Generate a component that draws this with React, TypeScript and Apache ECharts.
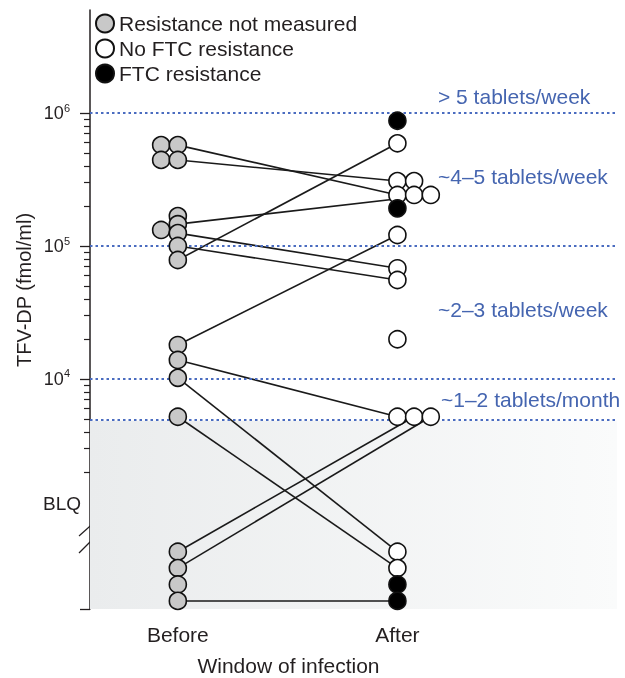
import React, { useEffect, useRef } from 'react';
import * as echarts from 'echarts';

const categories = ['Before', 'After'];
const seriesNames = ['Resistance not measured', 'No FTC resistance', 'FTC resistance'];

// TFV-DP (fmol/ml); 'BLQ' = below limit of quantification
const beforeValues: (number | string)[] = [574000, 444000, 132000, 574000, 444000, 168000, 146000, 125000, 100000, 78500, 18000, 13900, 10200, 5200, 'BLQ', 'BLQ', 'BLQ', 'BLQ'];
const beforeJitter = [-1, -1, -1, 0, 0, 0, 0, 0, 0, 0, 0, 0, 0, 0, 0, 0, 0, 0];
const beforeStatus = [0, 0, 0, 0, 0, 0, 0, 0, 0, 0, 0, 0, 0, 0, 0, 0, 0, 0];

const afterValues: (number | string)[] = [875000, 592000, 308000, 308000, 242000, 242000, 242000, 192000, 121000, 68000, 55500, 19900, 5200, 5200, 5200, 'BLQ', 'BLQ', 'BLQ', 'BLQ'];
const afterJitter = [0, 0, 0, 1, 0, 1, 2, 0, 0, 0, 0, 0, 0, 1, 2, 0, 0, 0, 0];
const afterStatus = [2, 1, 1, 1, 1, 1, 1, 2, 1, 1, 1, 1, 1, 1, 1, 1, 1, 2, 2];

// [before index, after index]
const pairs = [[3, 4], [4, 2], [6, 6], [7, 9], [8, 10], [9, 1], [10, 8], [11, 12], [12, 15], [13, 16], [14, 13], [15, 14], [17, 18]];

const guideValues = [1e6, 1e5, 1e4, 4860];
const majorExponents = [4, 5, 6];
const minorTickValues = [2000, 3000, 4000, 5000, 6000, 7000, 8000, 9000, 20000, 30000, 40000, 50000, 60000, 70000, 80000, 90000, 200000, 300000, 400000, 500000, 600000, 700000, 800000, 900000];
const bandLabels = ['> 5 tablets/week', '~4–5 tablets/week', '~2–3 tablets/week', '~1–2 tablets/month', '<1 tablet/month'];

const FONT = 'Liberation Sans, Arial, Helvetica, sans-serif';
const INK = '#231f20';
const BLUE_TEXT = '#4565b0';
const BLUE_LINE = '#4a6cc0';
const FILLS = ['#c8c8c8', '#ffffff', '#000000'];

const Y_MIN = 2.27;
const Y_MAX = 6.775;
const BLQ_TOP = 2.701;
const BLQ_STEP = 0.1233;
const BLQ_LABEL_POS = 3.067;
const JITTER = 0.076;

function toPoints(values: (number | string)[], jitter: number[], group: number) {
  let rank = 0;
  return values.map((v, i) => {
    const y = v === 'BLQ' ? BLQ_TOP - (rank++) * BLQ_STEP : Math.log10(v as number);
    return [group + jitter[i] * JITTER, y];
  });
}

export default function App() {
  const ref = useRef<HTMLDivElement>(null);
  useEffect(() => {
    if (!ref.current) return;
    const chart = echarts.init(ref.current, undefined, { renderer: 'svg' });
    const bPts = toPoints(beforeValues, beforeJitter, 0);
    const aPts = toPoints(afterValues, afterJitter, 1);

    const scatterSeries = seriesNames.map((name, s) => {
      const data: number[][] = [];
      bPts.forEach((p, i) => { if (beforeStatus[i] === s) data.push(p); });
      aPts.forEach((p, i) => { if (afterStatus[i] === s) data.push(p); });
      return {
        name,
        type: 'scatter',
        data,
        symbol: 'circle',
        symbolSize: 17,
        z: 5 + s,
        itemStyle: { color: FILLS[s], borderColor: '#111', borderWidth: 1.6, opacity: 1 },
        emphasis: { disabled: true },
      };
    });

    const bandPos = [[438, 96], [438, 176], [438, 309.5], [441, 399], [437, 511]];

    chart.setOption({
      animation: false,
      grid: { left: 90, right: 8, top: 10, bottom: 69, containLabel: false },
      legend: {
        orient: 'vertical',
        left: 95,
        top: 13,
        padding: 0,
        itemWidth: 18,
        itemHeight: 18,
        itemGap: 4,
        icon: 'circle',
        selectedMode: false,
        textStyle: { fontSize: 21, color: INK, fontFamily: FONT },
        data: seriesNames,
      },
      xAxis: {
        type: 'value',
        min: -0.4,
        max: 2.0,
        axisLine: { show: false, onZero: false },
        axisTick: { show: false },
        splitLine: { show: false },
        axisLabel: {
          customValues: [0, 1],
          formatter: (v: number) => categories[Math.round(v)] ?? '',
          fontSize: 21,
          color: INK,
          fontFamily: FONT,
          margin: 15,
        },
      },
      yAxis: [
        {
          type: 'value',
          min: Y_MIN,
          max: Y_MAX,
          position: 'left',
          splitLine: { show: false },
          axisLine: { show: true, onZero: false, lineStyle: { color: INK, width: 1.5 } },
          axisTick: { show: true, customValues: [Y_MIN, ...majorExponents], length: 10, lineStyle: { color: INK, width: 1.3 } },
          axisLabel: {
            customValues: majorExponents,
            margin: 20,
            formatter: (v: number) => `{b|10}{s|${Math.round(v)}}`,
            rich: {
              b: { fontSize: 18, color: INK, fontFamily: FONT },
              s: { fontSize: 11, color: INK, fontFamily: FONT, padding: [0, 0, 11, 0] },
            },
          },
        },
        {
          type: 'value',
          min: Y_MIN,
          max: Y_MAX,
          position: 'left',
          offset: 0,
          splitLine: { show: false },
          axisLine: { show: false, onZero: false },
          axisTick: { show: true, customValues: minorTickValues.map((v) => Math.log10(v)), length: 6, lineStyle: { color: INK, width: 1.2 } },
          axisLabel: {
            customValues: [BLQ_LABEL_POS],
            formatter: () => 'BLQ',
            margin: 9,
            fontSize: 19,
            color: INK,
            fontFamily: FONT,
          },
        },
      ],
      series: [
        {
          type: 'lines',
          coordinateSystem: 'cartesian2d',
          xAxisIndex: 0,
          yAxisIndex: 0,
          z: 2,
          silent: true,
          lineStyle: { color: '#1a1a1a', width: 1.6, opacity: 1 },
          data: pairs.map(([b, a]) => ({ coords: [bPts[b], aPts[a]] })),
          markArea: {
            silent: true,
            itemStyle: {
              color: new echarts.graphic.LinearGradient(0, 0, 1, 0, [
                { offset: 0, color: '#eaeced' },
                { offset: 1, color: '#fafbfb' },
              ]),
            },
            data: [[{ xAxis: -0.4, yAxis: Math.log10(guideValues[3]) }, { xAxis: 2.0, yAxis: Y_MIN }]],
          },
          markLine: {
            silent: true,
            symbol: ['none', 'none'],
            label: { show: false },
            lineStyle: { color: BLUE_LINE, type: [2.5, 3], width: 2.2 },
            data: guideValues.map((v) => ({ yAxis: Math.log10(v) })),
          },
        },
        ...scatterSeries,
      ],
      graphic: [
        {
          type: 'text',
          x: 24,
          y: 290,
          rotation: Math.PI / 2,
          style: { text: 'TFV-DP (fmol/ml)', fontSize: 20, fontFamily: FONT, fill: INK, align: 'center', verticalAlign: 'middle' },
        },
        {
          type: 'text',
          x: 288.5,
          y: 665.5,
          style: { text: 'Window of infection', fontSize: 21, fontFamily: FONT, fill: INK, align: 'center', verticalAlign: 'middle' },
        },
        ...bandLabels.map((t, i) => ({
          type: 'text',
          x: bandPos[i][0],
          y: bandPos[i][1],
          style: { text: t, fontSize: 21, fontFamily: FONT, fill: BLUE_TEXT, align: 'left', verticalAlign: 'middle' },
        })),
        { type: 'line', shape: { x1: 79, y1: 536, x2: 98, y2: 519 }, style: { stroke: INK, lineWidth: 1.2 } },
        { type: 'line', shape: { x1: 79, y1: 553, x2: 98, y2: 534 }, style: { stroke: INK, lineWidth: 1.2 } },
      ],
    });
    return () => chart.dispose();
  }, []);
  return <div ref={ref} style={{ position: 'fixed', left: 0, top: 0, width: 625, height: 678 }} />;
}
